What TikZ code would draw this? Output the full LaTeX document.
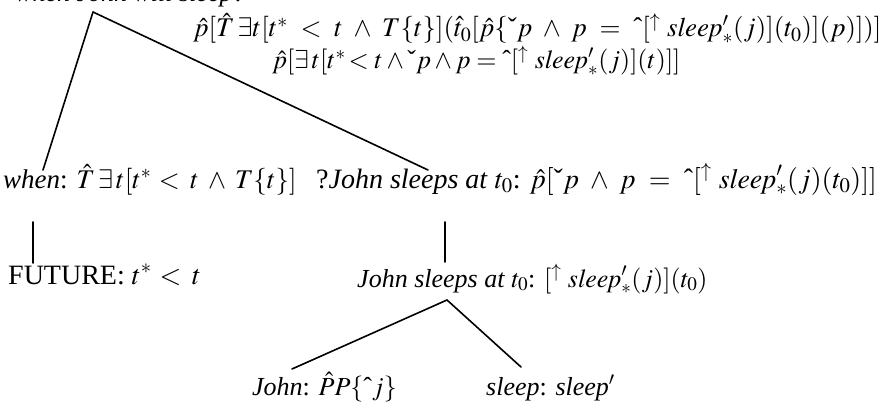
\documentclass[tikz,border=0pt]{standalone}
\usepackage{mathptmx}
\usepackage[no-math]{fontspec}
\setmainfont{Liberation Serif}
\newcommand\myext{\mbox{\normalfont ˇ}}
\newcommand\myint{\mbox{\normalfont ˆ}}
\newcommand\myslp{\mathit{sleep}'_{*}}
\newcommand\mywide{\medmuskip=6mu\relax\thickmuskip=7mu\relax}
\newcommand\mywider{\medmuskip=7mu\relax\thickmuskip=8.5mu\relax}
\tikzset{
  lab/.style={inner sep=0pt, anchor=base west, font=\fontsize{26}{30}\selectfont},
  wide/.style={font=\fontsize{#1}{30}\selectfont},
  edge/.style={line width=1.6pt, line cap=round, line join=round}
}
\begin{document}
\begin{tikzpicture}[x=1pt,y=-1pt]
\useasboundingbox (0,0) rectangle (882,401);
% top node (cut off at the top)
\node[lab] (top) at (15,2) {\textit{when John will sleep?}};
\node[lab, wide=27] (t1) at (193,37) {\mywider$\hat{p}[\hat{T}\,\exists t[t^{*} < t \wedge T\{t\}](\hat{t}_0[\hat{p}\{\myext p \wedge p = \myint[^{\uparrow}\ \myslp(j)](t_0)](p)])]$};
\node[lab] (t2) at (272,69) {$\hat{p}[\exists\, t[t^{*}\!< t \wedge \myext p \wedge p = \myint[^{\uparrow}\ \myslp(j)](t)]]$};
\coordinate (apex) at ([shift={(78,10)}]top.base west);
% middle row
\node[lab, wide=27] (when) at (3,188) {\mywide\textit{when}: $\hat{T}\,\exists\, t[t^{*}\!< t \wedge T\{t\}]$};
\node[lab, wide=28] (qj) at (316,188) {\mywider?\textit{John sleeps at} $t_0$: $\hat{p}[\myext p \wedge p = \myint[^{\uparrow}\ \myslp(j)(t_0)]]$};
% third row
\node[lab, wide=28] (fut) at (8,284) {\mywide FUTURE: $t^{*}\!< t$};
\node[lab] (js) at (357,287) {\textit{John sleeps at} $t_0$: $[^{\uparrow}\ \myslp(j)](t_0)$};
\coordinate (apex2) at ([shift={(90,13)}]js.base west);
% bottom row
\node[lab] (john) at (252,395) {\textit{John}: $\hat{P}P\{\myint j\}$};
\node[lab] (sleep) at (486,395) {\textit{sleep}: \textit{sleep}$'$};
% connectors
\draw[edge] (apex) -- ([shift={(40,-18)}]when.base west);
\draw[edge] (apex) -- ([shift={(112,-18)}]qj.base west);
\draw[edge] ([shift={(30,34)}]when.base west) -- ([shift={(25,-21)}]fut.base west);
\draw[edge] ([shift={(129,34)}]qj.base west) -- ([shift={(88,-25)}]js.base west);
\draw[edge] (apex2) -- ([shift={(40,-26)}]john.base west);
\draw[edge] (apex2) -- ([shift={(35,-28)}]sleep.base west);
\end{tikzpicture}
\end{document}
